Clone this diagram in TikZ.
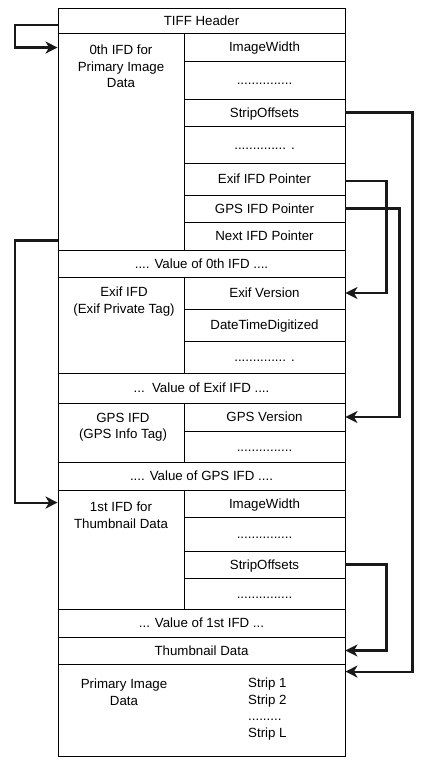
\documentclass[tikz,border=0pt]{standalone}
\usepackage{fontspec}
\setmainfont{Liberation Sans}
\usetikzlibrary{arrows.meta}

\begin{document}
\begin{tikzpicture}[x=1pt,y=-1pt,
 every node/.style={font=\fontsize{13.3}{16.5}\selectfont,inner sep=0pt},
 row/.style={draw,line width=0.9pt,minimum width=287,minimum height=#1,text height=9.6pt,text depth=0pt},
 ifd/.style={draw,line width=0.9pt,minimum width=126,minimum height=#1},
 tag/.style={draw,line width=0.9pt,minimum width=161,minimum height=#1,text height=9.6pt,text depth=0pt},
 txt/.style={anchor=north,align=center},
 ptr/.style={line width=2.1pt,black!90,-{Stealth[length=12pt,width=12pt,inset=3.5pt]}}]
 \useasboundingbox (0,0) rectangle (433,770);

 \node[row=25] (hdr) at (201.5,20.5) {TIFF Header}; %ヘッダ
 \node[ifd=217] (ifd0) at (121,141.5) {}; %0th IFD
 \node[txt] (t0) at (121,45) {0th IFD for\\Primary Image\\Data};
 \node[tag=28] (iw0) at (264.5,47) {ImageWidth};
 \node[tag=38] (d01) at (264.5,80) {...............};
 \node[tag=27] (so0) at (264.5,112.5) {StripOffsets};
 \node[tag=37] (d02) at (264.5,144.5) {.............. .};
 \node[tag=32] (exifp) at (264.5,179) {Exif IFD Pointer};
 \node[tag=27] (gpsp) at (264.5,208.5) {GPS IFD Pointer};
 \node[tag=28] (nextp) at (264.5,236) {Next IFD Pointer};
 \node[row=27] (val0) at (201.5,263.5) {.... Value of 0th IFD ....};

 \node[ifd=96] (exif) at (121,325) {}; %Exif IFD
 \node[txt] (t1) at (124,287) {Exif IFD\\(Exif Private Tag)};
 \node[tag=32] (exver) at (264.5,293) {Exif Version};
 \node[tag=32] (dtd) at (264.5,325) {DateTimeDigitized};
 \node[tag=32] (d11) at (264.5,357) {.............. .};
 \node[row=30] (valx) at (201.5,388) {...\ \ Value of Exif IFD ....};

 \node[ifd=59] (gps) at (121,432.5) {}; %GPS IFD
 \node[txt] (t2) at (123,413) {GPS IFD\\(GPS Info Tag)};
 \node[tag=28] (gpsver) at (264.5,417) {GPS Version};
 \node[tag=31] (d21) at (264.5,446.5) {...............};
 \node[row=28] (valg) at (201.5,476) {.... Value of GPS IFD ....};

 \node[ifd=119] (ifd1) at (121,549.5) {}; %1st IFD
 \node[txt] (t3) at (121,502) {1st IFD for\\Thumbnail Data};
 \node[tag=27] (iw1) at (264.5,503.5) {ImageWidth};
 \node[tag=34] (d31) at (264.5,534) {...............};
 \node[tag=27] (so1) at (264.5,564.5) {StripOffsets};
 \node[tag=31] (d32) at (264.5,593.5) {...............};
 \node[row=28] (val1) at (201.5,623) {... Value of 1st IFD ...};

 \node[row=27] (thumb) at (201.5,650.5) {Thumbnail Data}; %サムネイル
 \node[row=92] (prim) at (201.5,710) {}; %主画像
 \node[txt] (t4) at (124,679) {Primary Image\\Data};
 \node[anchor=north west,align=left] (strips) at (248,678) {Strip 1\\Strip 2\\.........\\Strip L};

 \draw[ptr] ([yshift=-4.5pt]hdr.west) -- ++(-43,0) |- ([yshift=-15pt]ifd0.north west); %0th IFDへ
 \draw[ptr] ([yshift=10pt]ifd0.south west) -- ++(-43,0) |- ([yshift=-13pt]ifd1.north west); %1st IFDへ
 \draw[ptr] (so0.east) -- ++(67,0) |- ([yshift=-8pt]prim.north east); %主画像へ
 \draw[ptr] ([yshift=-2pt]exifp.east) -- ++(41,0) |- (exver.east);
 \draw[ptr] (gpsp.east) -- ++(54,0) |- (gpsver.east);
 \draw[ptr] (so1.east) -- ++(41,0) |- (thumb.east); %サムネイルへ
\end{tikzpicture}
\end{document}
